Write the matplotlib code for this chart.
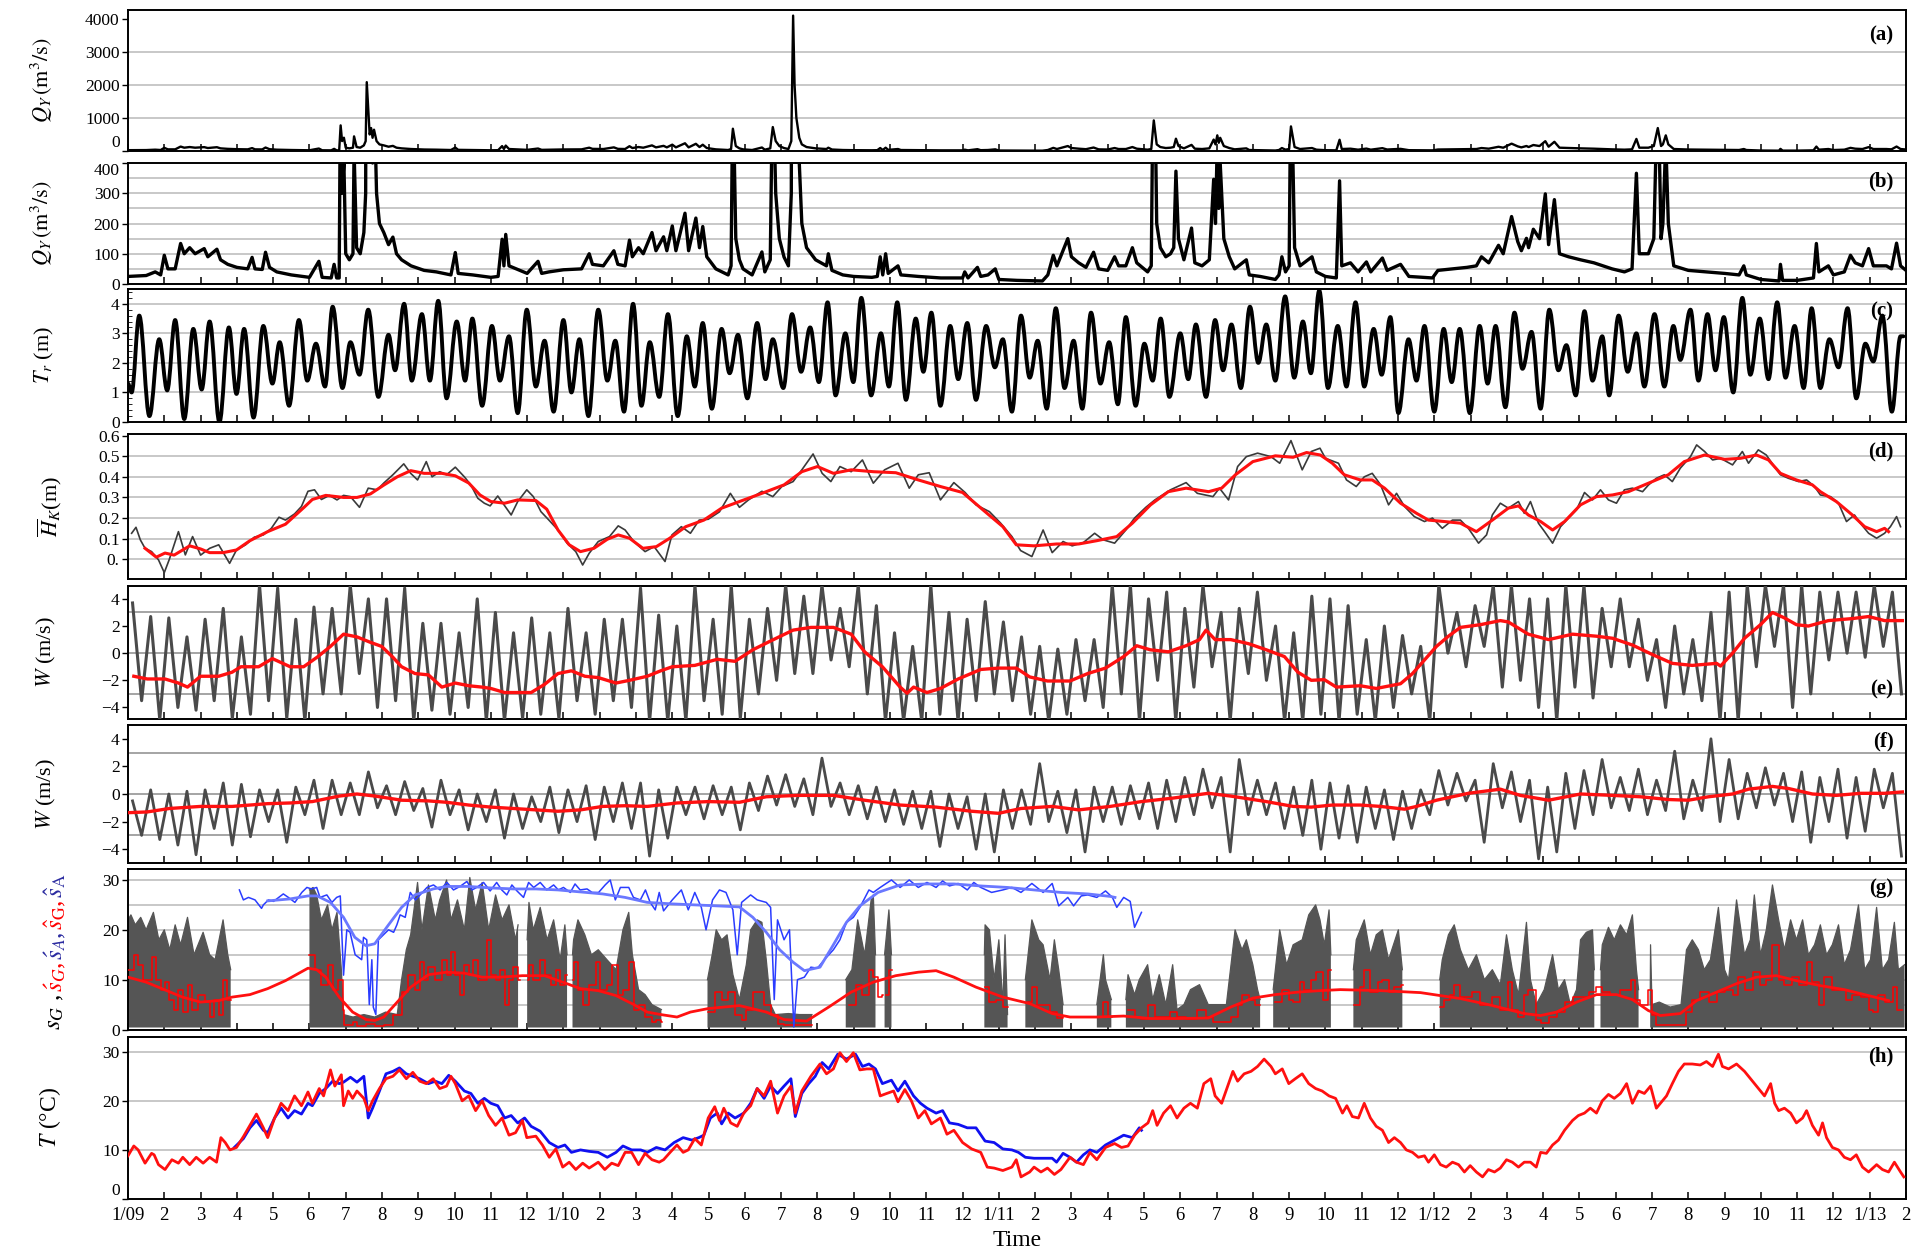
import numpy as np
import matplotlib
matplotlib.use("Agg")
import matplotlib.pyplot as plt
from matplotlib.path import Path
from matplotlib.patches import PathPatch
from matplotlib.ticker import MultipleLocator

NA = float("nan")

# ---------------- x axis (months since Jan 2009) ----------------
month_labels = ["1/09","2","3","4","5","6","7","8","9","10","11","12",
                "1/10","2","3","4","5","6","7","8","9","10","11","12",
                "1/11","2","3","4","5","6","7","8","9","10","11","12",
                "1/12","2","3","4","5","6","7","8","9","10","11","12",
                "1/13","2"]

# ---------------- (a)/(b) river discharge Q_Y (m3/s) ----------------
discharge = [(0,25),(0.5,28),(0.75,40),(0.9,30),(1.0,95),(1.1,50),(1.3,50),(1.45,134),(1.55,100),(1.7,120),
 (1.85,100),(2.1,117),(2.2,90),(2.45,115),(2.55,80),(2.75,65),(3.0,55),(3.3,50),(3.42,88),(3.5,50),(3.7,48),
 (3.79,105),(3.9,55),(4.1,40),(4.5,30),(5.0,22),(5.26,75),(5.35,22),(5.6,20),(5.68,65),(5.75,20),(5.82,20),
 (5.86,776),(5.9,300),(5.95,403),(6.0,100),(6.1,80),(6.2,100),(6.23,443),(6.3,120),(6.4,100),(6.5,170),(6.55,300),
 (6.58,2085),(6.62,1300),(6.66,500),(6.7,695),(6.74,400),(6.78,645),(6.85,300),(6.93,200),(7.05,170),(7.18,130),
 (7.3,155),(7.4,100),(7.54,80),(7.8,60),(8.16,45),(8.5,40),(8.9,30),(9.02,104),(9.1,35),(9.5,30),(10.0,22),(10.2,25),
 (10.31,148),(10.36,60),(10.41,164),(10.5,60),(10.8,45),(11.0,35),(11.3,75),(11.4,35),(11.6,40),(12.0,47),(12.5,50),
 (12.71,100),(12.8,65),(13.1,60),(13.39,110),(13.5,65),(13.7,60),(13.82,145),(13.9,90),(14.07,120),(14.2,100),
 (14.44,170),(14.55,110),(14.76,156),(14.85,110),(15.0,192),(15.1,110),(15.35,234),(15.45,110),(15.65,218),
 (15.75,120),(15.84,190),(15.95,90),(16.2,50),(16.54,30),(16.62,60),(16.67,675),(16.75,150),(16.85,80),(16.95,50),
 (17.2,30),(17.47,106),(17.55,40),(17.7,80),(17.77,725),(17.85,300),(17.95,150),(18.08,89),(18.2,60),(18.28,300),
 (18.33,4100),(18.37,2000),(18.42,1000),(18.5,400),(18.57,200),(18.7,120),(18.95,80),(19.25,60),(19.3,100),
 (19.4,45),(19.7,30),(20.0,25),(20.5,22),(20.65,25),(20.73,90),(20.8,30),(20.88,100),(20.95,35),(21.22,60),
 (21.3,30),(21.78,25),(22.4,20),(23.0,20),(23.06,40),(23.15,20),(23.41,55),(23.5,25),(23.7,30),(23.9,50),(24.0,15),
 (24.5,12),(25.2,10),(25.35,30),(25.5,95),(25.6,60),(25.9,150),(26.0,90),(26.2,70),(26.4,55),(26.61,105),(26.75,50),
 (27.0,45),(27.19,90),(27.3,60),(27.5,60),(27.68,120),(27.8,70),(28.1,40),(28.2,60),(28.27,927),(28.35,200),
 (28.45,120),(28.6,90),(28.73,100),(28.82,120),(28.88,373),(28.95,150),(29.1,80),(29.31,185),(29.4,70),(29.6,60),
 (29.8,80),(29.92,346),(29.97,200),(30.02,474),(30.06,250),(30.1,400),(30.2,150),(30.35,90),(30.5,50),(30.82,80),
 (30.9,30),(31.2,25),(31.62,15),(31.72,30),(31.8,90),(31.9,40),(32.0,60),(32.05,745),(32.15,120),(32.3,60),
 (32.63,90),(32.75,40),(33.0,25),(33.3,20),(33.39,341),(33.45,60),(33.69,70),(33.9,40),(34.13,73),(34.25,40),
 (34.57,86),(34.7,45),(35.07,65),(35.3,25),(35.95,20),(36.1,45),(36.5,50),(36.9,55),(37.16,60),(37.3,90),(37.5,70),
 (37.77,128),(37.9,100),(38.13,223),(38.3,140),(38.4,110),(38.54,151),(38.6,120),(38.73,181),(38.9,150),
 (39.06,298),(39.15,130),(39.31,279),(39.45,100),(39.7,90),(40.03,80),(40.4,70),(40.9,50),(41.24,40),(41.45,50),
 (41.57,366),(41.65,100),(41.9,100),(42.05,150),(42.16,695),(42.25,150),(42.3,200),(42.38,474),(42.45,200),
 (42.6,60),(43.0,45),(43.5,40),(44.0,35),(44.4,30),(44.53,60),(44.6,30),(45.0,15),(45.5,10),(45.54,65),(45.6,12),
 (46.0,12),(46.45,20),(46.53,134),(46.6,40),(46.86,60),(47.0,30),(47.3,40),(47.47,95),(47.6,70),(47.8,60),
 (47.97,117),(48.1,60),(48.46,60),(48.6,50),(48.74,135),(48.85,60),(49.0,45)]

# ---------------- (c) tidal range T_r (m): successive extremes ----------------
tide = [(0.0,1.3),(0.1,1.0),(0.31,3.6),(0.59,0.2),(0.86,2.8),(1.08,1.07),(1.30,3.45),(1.55,0.1),(1.80,3.15),(2.03,1.1),
 (2.25,3.4),(2.52,0.0),(2.78,3.2),(2.99,0.95),(3.20,3.15),(3.46,0.15),(3.73,3.25),(3.98,1.3),(4.18,2.7),(4.44,0.55),
 (4.71,3.45),(4.94,1.4),(5.18,2.65),(5.43,1.2),(5.64,3.9),(5.91,1.15),(6.13,2.7),(6.38,1.6),(6.62,3.8),(6.90,0.85),
 (7.18,2.95),(7.36,1.75),(7.61,4.0),(7.82,1.4),(8.10,3.65),(8.32,1.4),(8.55,4.1),(8.78,0.8),(9.06,3.4),(9.29,1.4),
 (9.49,3.5),(9.76,0.55),(10.03,3.25),(10.25,1.4),(10.50,2.9),(10.74,0.3),(10.99,3.8),(11.24,1.2),(11.48,2.75),
 (11.73,0.35),(12.00,3.45),(12.22,1.0),(12.44,2.8),(12.69,0.2),(12.96,3.8),(13.21,1.4),(13.43,2.75),(13.67,0.35),
 (13.92,4.0),(14.15,0.55),(14.38,2.7),(14.64,0.85),(14.88,3.65),(15.15,0.2),(15.40,2.9),(15.62,1.2),(15.84,3.35),
 (16.09,0.45),(16.36,3.15),(16.58,1.65),(16.81,2.95),(17.07,0.8),(17.34,3.35),(17.57,1.45),(17.77,2.8),(18.06,1.15),
 (18.30,3.65),(18.55,1.7),(18.80,3.2),(19.04,1.35),(19.28,4.05),(19.50,0.9),(19.77,3.0),(19.99,1.35),(20.21,4.2),
 (20.48,0.9),(20.75,3.0),(20.97,1.2),(21.20,4.05),(21.44,0.75),(21.71,3.5),(21.92,1.7),(22.14,3.7),(22.39,0.55),
 (22.66,3.25),(22.88,1.45),(23.13,3.35),(23.37,0.75),(23.65,3.25),(23.89,1.85),(24.11,2.8),(24.36,0.35),(24.61,3.6),
 (24.85,1.5),(25.07,2.75),(25.32,0.45),(25.57,3.85),(25.81,1.15),(26.06,2.75),(26.30,0.45),(26.54,3.7),(26.80,1.3),
 (27.04,2.7),(27.28,0.6),(27.50,3.55),(27.77,0.55),(28.01,2.65),(28.24,1.4),(28.46,3.5),(28.70,0.85),(29.00,3.0),
 (29.22,1.45),(29.43,3.3),(29.71,0.85),(29.96,3.45),(30.18,1.75),(30.41,3.3),(30.67,1.15),(30.92,3.9),(31.15,2.0),
 (31.37,3.3),(31.62,1.4),(31.89,4.25),(32.14,1.5),(32.38,3.4),(32.60,1.65),(32.83,4.45),(33.07,1.15),(33.34,3.25),
 (33.58,1.2),(33.83,4.05),(34.07,1.2),(34.33,3.15),(34.55,1.6),(34.79,3.55),(35.01,0.3),(35.29,2.8),(35.51,1.4),
 (35.73,3.25),(36.00,0.35),(36.26,3.15),(36.48,1.35),(36.70,3.15),(36.98,0.3),(37.25,3.25),(37.47,1.3),(37.69,3.25),
 (37.96,0.5),(38.21,3.7),(38.43,1.8),(38.68,3.05),(38.93,0.45),(39.17,3.8),(39.42,1.75),(39.64,2.6),(39.90,0.9),
 (40.14,3.75),(40.36,1.4),(40.63,2.9),(40.82,0.9),(41.08,3.6),(41.33,1.7),(41.57,3.0),(41.79,1.2),(42.07,3.65),
 (42.34,1.2),(42.59,3.25),(42.78,2.1),(43.06,3.8),(43.28,1.4),(43.53,3.65),(43.75,1.75),(43.98,3.55),(44.24,1.0),
 (44.49,4.2),(44.71,1.6),(44.97,3.5),(45.21,1.45),(45.45,4.05),(45.68,1.5),(45.93,3.25),(46.18,1.15),(46.40,3.85),
 (46.64,1.15),(46.89,2.8),(47.14,1.85),(47.39,3.85),(47.63,0.8),(47.88,2.65),(48.10,2.05),(48.35,3.6),(48.61,0.35),
 (48.85,2.9),(48.93,2.9)]

# ---------------- (d) mean sea level H_K (m) ----------------
hk_raw = [(0.1,0.126),(0.22,0.155),(0.34,0.094),(0.47,0.053),(0.65,0.037),(0.84,-0.003),(1.0,-0.065),(1.14,0.0),
 (1.39,0.134),(1.58,0.021),(1.78,0.11),(2.0,0.02),(2.25,0.053),(2.5,0.07),(2.8,-0.02),(2.99,0.045),(3.24,0.07),
 (3.48,0.107),(3.73,0.118),(3.95,0.15),(4.16,0.204),(4.34,0.19),(4.59,0.22),(4.78,0.256),(4.96,0.33),(5.14,0.337),
 (5.33,0.29),(5.55,0.31),(5.76,0.288),(5.94,0.31),(6.13,0.304),(6.38,0.252),(6.62,0.345),(6.87,0.337),(7.05,0.37),
 (7.3,0.41),(7.6,0.463),(7.79,0.417),(7.98,0.385),(8.22,0.474),(8.38,0.4),(8.59,0.425),(8.78,0.41),(9.02,0.447),
 (9.27,0.4),(9.45,0.36),(9.64,0.296),(9.82,0.272),(9.98,0.259),(10.19,0.307),(10.38,0.26),(10.56,0.215),(10.74,0.28),
 (10.99,0.337),(11.17,0.304),(11.38,0.231),(11.6,0.19),(11.85,0.142),(12.1,0.078),(12.34,0.037),(12.53,-0.028),
 (12.71,0.029),(12.96,0.086),(13.27,0.11),(13.51,0.162),(13.7,0.142),(13.94,0.086),(14.25,0.037),(14.5,0.061),
 (14.8,-0.011),(14.99,0.118),(15.25,0.158),(15.5,0.126),(15.74,0.19),(15.99,0.194),(16.3,0.23),(16.6,0.32),
 (16.85,0.252),(17.1,0.288),(17.47,0.33),(17.77,0.304),(18.02,0.353),(18.33,0.377),(18.57,0.434),(18.88,0.511),
 (19.13,0.417),(19.37,0.377),(19.62,0.45),(19.93,0.425),(20.24,0.482),(20.54,0.369),(20.85,0.434),(21.22,0.466),
 (21.53,0.345),(21.78,0.41),(22.08,0.42),(22.39,0.288),(22.76,0.372),(23.07,0.324),(23.37,0.264),(23.74,0.231),
 (24.05,0.175),(24.36,0.11),(24.6,0.042),(24.91,0.013),(25.22,0.142),(25.47,0.032),(25.77,0.086),(26.02,0.065),
 (26.33,0.081),(26.64,0.126),(26.88,0.094),(27.19,0.078),(27.5,0.142),(27.74,0.2),(28.05,0.252),(28.3,0.288),
 (28.73,0.337),(29.16,0.372),(29.47,0.32),(29.9,0.304),(30.08,0.345),(30.33,0.288),(30.58,0.45),(30.82,0.498),
 (31.13,0.515),(31.5,0.498),(31.74,0.466),(32.05,0.576),(32.36,0.434),(32.61,0.523),(32.85,0.539),(33.0,0.49),
 (33.36,0.466),(33.58,0.385),(33.85,0.353),(34.07,0.4),(34.29,0.417),(34.52,0.361),(34.74,0.264),(34.96,0.32),
 (35.18,0.256),(35.45,0.207),(35.73,0.183),(35.95,0.2),(36.22,0.15),(36.5,0.19),(36.72,0.19),(36.94,0.15),
 (37.22,0.078),(37.44,0.118),(37.6,0.215),(37.82,0.272),(38.04,0.248),(38.32,0.28),(38.48,0.223),(38.65,0.28),
 (38.87,0.175),(39.04,0.134),(39.26,0.078),(39.48,0.158),(39.7,0.2),(39.92,0.24),(40.14,0.324),(40.36,0.288),
 (40.58,0.337),(40.8,0.288),(41.02,0.272),(41.24,0.337),(41.46,0.345),(41.74,0.328),(41.9,0.36),(42.12,0.393),
 (42.34,0.41),(42.56,0.377),(42.78,0.442),(43.06,0.498),(43.23,0.555),(43.45,0.523),(43.67,0.482),(43.89,0.49),
 (44.22,0.458),(44.49,0.523),(44.66,0.466),(44.93,0.531),(45.15,0.506),(45.37,0.45),(45.54,0.41),(45.76,0.393),
 (46.04,0.377),(46.26,0.385),(46.48,0.353),(46.64,0.312),(46.92,0.304),(47.14,0.272),(47.36,0.183),(47.58,0.215),
 (47.74,0.175),(47.97,0.126),(48.19,0.102),(48.41,0.126),(48.57,0.158),(48.74,0.207),(48.85,0.158)]
hk_smooth = [(0.47,0.053),(0.78,0.01),(1.02,0.03),(1.27,0.02),(1.7,0.065),(2.0,0.05),(2.25,0.032),(2.62,0.032),
 (2.99,0.045),(3.36,0.09),(3.85,0.134),(4.34,0.17),(4.84,0.25),(5.08,0.29),(5.45,0.31),(5.94,0.3),(6.31,0.3),
 (6.68,0.317),(7.05,0.36),(7.42,0.4),(7.79,0.43),(8.16,0.417),(8.65,0.417),(9.02,0.405),(9.39,0.37),(9.7,0.312),
 (10.0,0.28),(10.38,0.272),(10.74,0.288),(11.24,0.285),(11.54,0.243),(11.85,0.142),(12.16,0.07),(12.47,0.037),
 (12.84,0.053),(13.21,0.097),(13.51,0.118),(13.82,0.102),(14.19,0.053),(14.56,0.061),(14.93,0.102),(15.37,0.158),
 (15.87,0.19),(16.36,0.248),(16.85,0.28),(17.47,0.32),(18.08,0.361),(18.57,0.425),(19.0,0.45),(19.44,0.417),
 (19.93,0.434),(20.54,0.425),(21.16,0.42),(21.78,0.385),(22.39,0.353),(23.0,0.324),(23.62,0.231),(24.11,0.158),
 (24.48,0.07),(24.97,0.065),(25.59,0.074),(26.2,0.074),(26.7,0.09),(27.25,0.11),(27.68,0.175),(28.18,0.264),
 (28.67,0.328),(29.16,0.345),(29.78,0.328),(30.14,0.345),(30.52,0.41),(31.0,0.474),(31.62,0.502),(32.11,0.495),
 (32.48,0.518),(32.86,0.506),(33.19,0.466),(33.52,0.41),(33.96,0.385),(34.29,0.385),(34.63,0.345),(35.07,0.272),
 (35.51,0.223),(35.84,0.19),(36.28,0.183),(36.72,0.175),(37.16,0.134),(37.6,0.19),(38.04,0.248),(38.32,0.259),
 (38.59,0.215),(38.93,0.183),(39.26,0.142),(39.59,0.183),(40.03,0.264),(40.47,0.304),(40.91,0.312),(41.35,0.328),
 (41.9,0.369),(42.45,0.41),(42.89,0.474),(43.45,0.506),(44.0,0.485),(44.44,0.49),(44.88,0.506),(45.21,0.482),
 (45.54,0.417),(45.98,0.385),(46.42,0.361),(46.64,0.328),(47.08,0.28),(47.52,0.215),(47.86,0.158),(48.19,0.134),
 (48.41,0.15),(48.52,0.134)]

# ---------------- (e) wind W (m/s), station 1: half-month max / min, smooth ----------------
e_hi = [3.7,2.7,2.6,1.2,2.5,3.3,1.2,5.0,4.8,2.5, 3.4,3.3,5.0,4.0,4.0,4.8,2.2,2.2,1.5,4.0,
        3.0,1.5,2.6,1.5,3.3,1.5,2.5,2.5,4.8,2.8, 2.0,5.0,2.5,5.0,2.5,3.3,5.0,4.2,5.0,3.3,
        5.0,3.5,1.5,0.5,5.0,3.0,2.5,3.8,2.3,1.2, 0.5,0.3,1.0,1.0,5.0,5.0,4.0,4.5,3.3,5.0,
        3.0,3.3,4.5,2.0,1.5,4.2,4.0,3.5,1.0,2.0, 1.3,0.5,5.0,3.0,3.5,5.0,5.0,4.0,4.0,5.0,
        5.0,3.3,4.0,2.5,1.0,2.0,1.0,3.0,4.5,5.0, 5.0,5.0,5.0,4.5,4.5,4.5,5.0,4.5]
e_lo = [-3.5,-4.9,-4.0,-4.2,-3.5,-4.8,-4.5,-3.5,-4.8,-5.0, -3.0,-3.0,-1.5,-4.0,-3.5,-5.0,-4.2,-4.5,-4.0,-5.0,
        -5.0,-4.8,-4.5,-4.8,-3.5,-4.5,-3.5,-4.0,-5.0,-5.0, -5.0,-3.5,-4.5,-4.8,-3.0,-2.0,-1.5,-1.5,-0.5,-1.0,
        -3.0,-5.0,-5.0,-5.0,-4.5,-5.0,-3.5,-3.0,-3.5,-4.5, -5.0,-4.5,-3.5,-4.0,-3.0,-5.0,-2.0,-5.0,-2.5,-1.0,
        -5.0,-1.5,-2.0,-5.0,-5.0,-4.5,-5.0,-4.5,-5.0,-4.0, -3.0,-5.0,0.0,-1.0,0.5,-2.5,-2.0,-4.0,-5.0,-2.5,
        -3.3,-1.0,-1.0,-2.0,-4.0,-3.0,-3.5,-5.0,-5.0,-1.0, 0.5,-4.0,-3.0,-0.5,0.0,-0.3,0.5,-3.0]
e_smooth = [(0.16,-1.7),(0.53,-1.9),(1.02,-1.9),(1.39,-2.2),(1.64,-2.5),(2.0,-1.7),(2.5,-1.7),(2.87,-1.4),(3.11,-1.0),
 (3.6,-1.0),(3.98,-0.4),(4.47,-1.0),(4.84,-1.0),(5.21,-0.3),(5.58,0.5),(5.94,1.4),(6.31,1.2),(6.68,0.8),(6.99,0.5),
 (7.3,-0.3),(7.54,-1.0),(7.91,-1.5),(8.28,-1.6),(8.65,-2.5),(9.02,-2.2),(9.39,-2.4),(9.76,-2.5),(10.0,-2.6),
 (10.38,-2.9),(10.74,-2.9),(11.11,-2.9),(11.48,-2.3),(11.85,-1.5),(12.22,-1.3),(12.59,-1.7),(12.96,-1.8),
 (13.45,-2.2),(13.82,-2.0),(14.31,-1.7),(14.68,-1.3),(15.0,-1.0),(15.62,-0.9),(16.24,-0.45),(16.73,-0.6),
 (17.22,0.25),(17.71,0.9),(18.33,1.7),(18.82,1.9),(19.44,1.9),(19.93,1.4),(20.3,0.1),(20.79,-1.0),(21.28,-2.5),
 (21.47,-2.95),(21.65,-2.5),(22.02,-2.9),(22.39,-2.6),(22.88,-1.9),(23.5,-1.2),(23.99,-1.1),(24.48,-1.1),
 (24.85,-1.75),(25.34,-2.05),(25.96,-2.05),(26.45,-1.5),(26.94,-1.1),(27.44,-0.25),(27.8,0.55),(28.17,0.25),
 (28.67,0.1),(29.16,0.55),(29.53,1.0),(29.71,1.7),(29.96,1.0),(30.39,1.0),(30.88,0.7),(31.37,0.25),(31.87,-0.25),
 (32.24,-1.4),(32.61,-2.0),(32.97,-1.95),(33.3,-2.5),(33.96,-2.4),(34.4,-2.6),(35.07,-2.25),(35.4,-1.5),
 (35.73,-0.5),(36.06,0.5),(36.39,1.25),(36.72,1.9),(37.27,2.1),(37.82,2.4),(38.04,2.3),(38.59,1.4),(39.15,1.0),
 (39.81,1.4),(40.47,1.25),(40.91,1.1),(41.46,0.6),(42.01,-0.1),(42.56,-0.75),(43.11,-0.9),(43.78,-0.75),
 (43.89,-0.95),(44.22,0.0),(44.55,1.1),(44.99,2.1),(45.32,3.0),(45.65,2.6),(45.98,2.1),(46.31,2.0),(46.86,2.4),
 (47.52,2.55),(47.97,2.7),(48.41,2.4),(48.9,2.4)]

# ---------------- (f) wind W (m/s), station 2 ----------------
f_hi = [-0.5,0.3,0.0,0.2,0.3,0.8,0.7,0.3,0.3,0.5, 1.0,1.0,0.8,1.6,0.6,0.9,0.4,1.0,0.3,0.0,
        0.3,0.0,-0.2,0.5,0.3,0.6,0.5,0.8,0.8,0.3, 0.5,0.5,0.6,0.5,0.8,1.3,1.4,1.1,2.6,0.8,
        0.6,0.5,0.3,0.2,0.2,0.0,-0.2,0.0,0.3,0.3, 2.2,0.2,0.3,0.5,0.5,0.6,0.8,1.0,1.2,1.8,
        1.2,2.5,1.0,0.8,0.5,1.0,0.8,0.6,0.5,0.3, 0.2,0.3,1.7,1.5,1.0,2.2,1.6,1.0,0.5,1.5,
        1.7,2.5,1.2,1.8,1.0,3.1,1.0,4.0,2.5,1.5, 1.9,1.5,1.6,1.2,1.8,1.2,1.8,1.5]
f_lo = [-3.0,-3.3,-3.7,-4.4,-2.5,-3.7,-3.1,-2.0,-3.5,-1.5, -2.5,-1.5,-1.5,-1.0,-1.5,-1.2,-2.4,-1.5,-2.6,-2.0,
        -3.2,-2.5,-2.0,-2.8,-2.0,-3.3,-2.0,-2.5,-4.5,-3.2, -1.5,-1.8,-1.5,-2.6,-1.2,-0.8,-0.9,-1.5,-0.9,-1.5,
        -1.8,-2.0,-2.2,-2.5,-3.8,-2.5,-4.0,-4.2,-2.5,-2.2, -2.0,-2.8,-4.2,-2.0,-2.2,-1.8,-2.5,-2.0,-1.5,-1.0,
        -4.2,-1.5,-1.5,-2.5,-3.0,-4.0,-3.2,-3.5,-2.5,-3.3, -2.5,-1.5,-0.8,-0.5,-3.5,-1.0,-2.0,-4.7,-4.2,-2.5,
        -1.5,-1.0,-1.2,-1.5,-1.2,-1.8,-1.2,-2.0,-1.8,-1.0, -0.8,-2.0,-3.5,-2.0,-3.2,-2.7,-1.0,-4.5]
f_smooth = [(0.04,-1.35),(0.53,-1.3),(1.14,-1.05),(2.0,-0.9),(2.87,-0.9),(3.85,-0.7),(4.47,-0.65),(5.08,-0.55),
 (5.82,-0.15),(6.31,0.0),(6.81,-0.15),(7.54,-0.45),(8.28,-0.5),(8.78,-0.6),(9.39,-0.8),(10.0,-0.95),(10.62,-1.05),
 (11.24,-1.15),(11.85,-1.25),(12.47,-1.15),(13.08,-0.9),(13.7,-0.85),(14.31,-0.9),(15.13,-0.65),(15.99,-0.55),
 (16.85,-0.6),(17.59,-0.2),(18.45,-0.1),(19.44,-0.1),(20.3,-0.45),(21.28,-0.8),(22.27,-0.95),(23.25,-1.25),
 (23.99,-1.4),(24.61,-1.05),(25.47,-0.9),(26.2,-1.15),(27.07,-0.9),(27.93,-0.55),(28.79,-0.3),(29.77,0.05),
 (30.39,-0.15),(31.37,-0.55),(32.11,-0.9),(32.61,-0.95),(33.19,-0.8),(33.96,-0.8),(34.52,-0.9),(35.18,-1.1),
 (35.51,-0.9),(36.06,-0.45),(36.94,0.05),(37.82,0.35),(38.37,-0.1),(39.15,-0.45),(40.03,0.0),(40.91,-0.1),
 (41.68,-0.2),(42.45,-0.4),(43.0,-0.45),(43.56,-0.2),(44.22,0.0),(44.66,0.35),(45.32,0.55),(45.76,0.4),
 (46.42,0.0),(47.08,-0.1),(47.75,0.05),(48.41,0.05),(48.9,0.15)]

# ---------------- (g) salinity ----------------
sG_min = 0.4
sG_top = [(0.0,22),(0.08,23),(0.2,21),(0.35,22.5),(0.5,20),(0.7,23.5),(0.85,18),(1.0,20),(1.15,16),(1.3,21),(1.45,17),
 (1.64,22.5),(1.82,15),(2.07,19.5),(2.25,15),(2.4,14),(2.62,22),(2.75,15),(2.83,12),(2.84,NA),
 (5.0,28),(5.1,28.5),(5.2,27),(5.33,22),(5.5,25),(5.62,20),(5.76,23.5),(5.88,12),(5.94,3),(6.2,2.5),(6.5,3.0),
 (6.8,2.5),(7.1,3.5),(7.42,3),(7.54,10),(7.67,16),(7.79,19),(7.98,29.5),(8.1,20),(8.28,29),(8.47,22),(8.59,26),
 (8.78,30),(8.9,22),(9.08,26),(9.27,20),(9.42,30.5),(9.58,24),(9.76,29.5),(9.94,20),(10.13,27),(10.31,22),(10.5,25),
 (10.68,18),(10.75,21),(10.76,NA),
 (11.0,18),(11.05,25.5),(11.17,20),(11.36,24.5),(11.55,18),(11.73,22),(11.91,14),(12.04,21),(12.1,15),(12.11,NA),
 (12.25,15),(12.28,18),(12.4,22),(12.59,19),(12.77,15),(12.96,16),(13.2,14),(13.45,12),(13.64,20),(13.8,23.5),
 (13.9,15),(14.07,8),(14.25,7),(14.44,5),(14.7,4),(14.71,NA),
 (15.97,10),(16.1,15),(16.21,20),(16.36,18),(16.51,19),(16.67,11),(16.85,6),(17.04,13),(17.16,20),(17.34,22),
 (17.47,21.5),(17.59,14),(17.71,5),(17.84,3),(18.2,3.2),(18.5,3.0),(18.85,3),(18.86,NA),
 (19.78,10),(19.95,12),(20.11,22),(20.3,15),(20.48,26),(20.54,27),(20.6,15),(20.61,NA),(20.85,15),(20.97,24),
 (21.04,15),(21.05,NA),
 (23.6,15),(23.62,21),(23.74,20),(23.87,10),(24.0,18),(24.11,5),(24.17,19),(24.24,3),(24.25,NA),
 (24.73,10),(24.91,22),(25.1,18),(25.22,17),(25.41,10),(25.53,18),(25.65,12),(25.77,5),(25.78,NA),
 (26.7,5),(26.88,15),(26.94,10),(27.1,6),(27.11,NA),
 (27.5,6),(27.56,11),(27.74,7),(27.87,10),(28.1,13),(28.24,6),(28.42,11),(28.6,5),(28.79,13),(28.91,4),(29.1,5),
 (29.28,8),(29.53,9),(29.77,5),(30.02,5),(30.27,5),(30.51,20),(30.7,16),(30.82,18),(31.0,13),(31.13,8),(31.2,6),
 (31.21,NA),
 (31.56,8),(31.74,20),(31.93,13),(32.11,17),(32.36,18),(32.54,23),(32.73,25),(32.85,22),(32.97,17),(33.1,24),
 (33.15,15),(33.16,NA),
 (33.77,12),(33.85,18),(34.07,22),(34.24,15),(34.4,19),(34.57,20),(34.74,14),(35.01,20),(35.12,12),(35.13,NA),
 (36.15,10),(36.22,14),(36.39,19),(36.55,21),(36.72,16),(36.94,12),(37.16,15),(37.38,10),(37.6,12),(37.82,9),
 (37.99,19),(38.15,12),(38.32,7),(38.54,21.5),(38.65,10),(38.81,5),(39.03,8),(39.26,15),(39.42,8),(39.59,10),
 (39.75,5),(39.92,8),(40.03,18),(40.19,19.5),(40.36,20),(40.41,12),(40.42,NA),
 (40.58,12),(40.63,17),(40.8,20.5),(40.96,18),(41.13,21),(41.3,19),(41.46,23),(41.57,12),(41.63,8),(41.64,NA),
 (41.95,5),(41.96,17),(42.0,5),(42.2,5.5),(42.5,4.5),(42.8,5),(42.95,16),(43.11,18),(43.28,16),(43.44,12),
 (43.61,14),(43.83,24.5),(44.0,12),(44.11,10),(44.33,26),(44.55,15),(44.71,18),(44.82,27),(44.99,15),(45.15,20),
 (45.32,29),(45.49,22),(45.65,16),(45.82,22),(45.98,18),(46.15,22),(46.31,15),(46.48,17),(46.64,21),(46.81,15),
 (46.97,17),(47.14,21),(47.3,13),(47.47,16),(47.69,25),(47.86,12),(48.02,14),(48.19,24.5),(48.35,12),(48.52,14),
 (48.68,21.5),(48.79,12),(48.96,13)]
sG_daily = [(0,12),(0.16,15),(0.28,13),(0.4,10),(0.65,14.5),(0.78,10),(0.9,8),(1.02,9.5),(1.14,6),(1.27,4),(1.39,8),
 (1.51,3.5),(1.64,9),(1.76,4),(1.94,7),(2.13,5.5),(2.25,2.5),(2.38,6),(2.5,3),(2.62,10),(2.74,6),(2.83,6),(2.84,NA),
 (5.0,15),(5.14,12),(5.33,9),(5.51,13),(5.64,8),(5.8,10),(5.92,4),(5.94,1.0),(6.19,1.5),(6.31,0.8),(6.56,1.2),
 (6.8,0.8),(7.05,1.0),(7.3,3),(7.54,7.5),(7.73,11),(7.91,8),(8.04,13.5),(8.16,10),(8.28,12.5),(8.47,10),(8.65,14),
 (8.78,11),(8.9,15.5),(9.02,11),(9.14,7),(9.27,13),(9.39,11),(9.51,14),(9.64,10),(9.76,10),(9.88,18),(10.0,11),
 (10.13,10),(10.25,12),(10.38,5),(10.5,10),(10.62,12.5),(10.74,10),(10.8,10),(10.81,NA),
 (11.02,10),(11.05,13),(11.17,10),(11.36,14),(11.48,11),(11.67,9),(11.79,12),(11.91,9),(12.04,11),(12.1,11),(12.11,NA),
 (12.25,10),(12.28,13.5),(12.4,8),(12.53,5),(12.71,9),(12.9,13.5),(13.02,8),(13.2,9),(13.33,13),(13.51,7),(13.64,8),
 (13.82,13.5),(13.94,4),(14.07,5),(14.25,2.5),(14.44,1.5),(14.56,2.0),(14.7,1.5),(14.71,NA),
 (15.99,3.5),(16.17,7.5),(16.36,6),(16.54,7.5),(16.73,3),(16.91,2),(17.04,4),(17.22,7.5),(17.41,7.5),(17.53,5),
 (17.71,3),(17.9,1.2),(18.08,1.0),(18.45,1.0),(18.85,1.0),(18.86,NA),
 (19.87,5),(20.05,9),(20.23,7),(20.42,12),(20.54,10.5),(20.67,6.5),(20.79,7),(20.8,NA),(20.9,7),(20.97,12),(21.04,12),
 (21.05,NA),
 (23.62,8.5),(23.74,5.5),(23.93,6),(24.11,4.5),(24.24,4.5),(24.25,NA),
 (24.79,5.5),(24.91,8.5),(25.04,5),(25.22,5),(25.41,3.5),(25.59,2.3),(25.77,2.5),(25.78,NA),
 (26.76,2.5),(26.88,5.5),(27.0,2.5),(27.1,2.5),(27.11,NA),
 (27.56,4),(27.74,2.5),(27.93,2.2),(28.1,5),(28.3,2.5),(28.42,2.5),(28.73,3.5),(28.91,2.5),(29.16,2.2),(29.47,4),
 (29.71,2.5),(29.9,1.5),(30.2,1.5),(30.39,2.5),(30.58,5),(30.7,7),(30.88,6),(31.07,5),(31.2,5),(31.21,NA),
 (31.62,5.5),(31.8,8),(31.99,6),(32.11,5.5),(32.3,9.5),(32.42,8),(32.59,10),(32.75,11.5),(32.92,6),(33.08,12),
 (33.15,12),(33.16,NA),
 (33.8,5),(33.96,8.5),(34.07,12),(34.24,7.5),(34.46,9.5),(34.57,10),(34.74,7.5),(34.9,8.5),(35.07,9),(35.12,9),
 (35.13,NA),
 (36.17,4.5),(36.28,6),(36.44,7),(36.55,9),(36.72,6.5),(36.94,6.5),(37.05,7.5),(37.27,5),(37.44,5),(37.6,6.5),
 (37.82,4),(38.04,9.5),(38.15,4),(38.32,2.5),(38.48,7),(38.59,8),(38.81,2),(38.93,1.3),(39.15,2.5),(39.37,3.5),
 (39.59,5.5),(39.81,6.5),(40.03,6.5),(40.25,7.5),(40.47,8.5),(40.63,7.5),(40.85,7),(41.13,8),(41.41,10),(41.52,6),
 (41.68,5),(41.9,8),(42.01,3),(42.12,1.0),(42.45,1.0),(42.78,1.0),(42.95,3.5),(43.11,6),(43.33,7.5),(43.56,5.5),
 (43.78,7.5),(44.0,8),(44.22,7),(44.38,10.5),(44.55,8),(44.77,11.5),(44.99,9),(45.15,10),(45.32,17),(45.49,10),
 (45.65,9),(45.87,10.5),(46.04,9),(46.26,13.5),(46.42,9.5),(46.59,5),(46.75,10.5),(46.97,8),(47.14,8),(47.36,6),
 (47.52,7),(47.75,6.5),(47.97,4),(48.08,3.5),(48.24,7),(48.41,5.5),(48.63,8.5),(48.74,4),(48.9,4)]
sG_smooth = [(0.0,10.5),(0.5,9.5),(1.0,8.0),(1.5,6.5),(2.0,5.5),(2.5,5.8),(2.87,6.5),(3.36,7.0),(3.85,8.2),(4.34,9.8),
 (4.96,12.3),(5.2,12.0),(5.45,10.5),(5.82,6.5),(6.19,3.5),(6.56,2.0),(6.8,1.8),(7.05,2.5),(7.42,5.5),(7.79,8.5),
 (8.28,11.0),(8.78,11.5),(9.27,11.3),(9.76,10.5),(10.25,10.5),(10.87,10.8),(11.48,10.8),(11.98,9.5),(12.47,8.2),
 (12.96,7.8),(13.45,6.8),(13.94,5.0),(14.31,3.5),(14.68,3.0),(15.13,2.5),(15.5,3.5),(15.99,4.2),(16.85,4.8),
 (17.59,3.5),(18.08,2.0),(18.7,1.7),(19.31,4.5),(19.93,7.5),(20.54,9.5),(21.16,10.8),(21.78,11.5),(22.27,11.8),
 (22.76,10.5),(23.37,8.5),(24.11,6.5),(24.85,5.2),(25.47,3.2),(25.96,2.5),(26.7,2.5),(27.44,2.7),(28.17,2.2),
 (28.91,2.2),(29.77,2.3),(30.39,4.5),(31.0,6.3),(31.62,7.0),(32.24,7.5),(32.85,7.8),(33.41,8.0),(34.52,7.8),
 (35.62,7.4),(36.72,6.2),(37.49,5.0),(38.04,4.0),(38.48,3.2),(38.93,2.8),(39.37,3.5),(39.92,5.5),(40.47,7.0),
 (41.02,7.0),(41.46,6.0),(41.9,3.8),(42.23,2.8),(42.78,3.2),(43.23,5.8),(43.78,7.5),(44.33,9.2),(44.88,10.5),
 (45.43,10.8),(45.98,9.8),(46.64,8.8),(47.3,8.0),(47.97,6.8),(48.52,5.8)]
sA_daily = [(3.07,28),(3.18,26),(3.32,26.5),(3.5,26),(3.68,24.3),(3.73,25),(3.87,26),(4.01,25.7),(4.28,27.2),(4.42,26.5),
 (4.6,25.5),(4.79,27.5),(4.93,28.5),(5.06,28.2),(5.2,28.5),(5.29,26.5),(5.48,27),(5.62,25.5),(5.75,26.5),(5.85,26.8),
 (5.94,10.9),(6.03,20),(6.12,19.5),(6.26,15),(6.35,14.5),(6.44,14.0),(6.49,18.5),(6.58,18),(6.65,5),(6.72,14),
 (6.76,4.5),(6.83,3.0),(6.9,18),(7.04,19),(7.18,20),(7.32,19.5),(7.41,21),(7.5,23),(7.64,22.5),(7.78,27.5),(7.92,26),
 (8.05,27),(8.24,28.5),(8.42,29),(8.6,28),(8.79,29.5),(8.97,28),(9.15,28.7),(9.34,29.7),(9.48,28),(9.61,28.5),
 (9.8,29.5),(9.98,27.8),(10.16,29.5),(10.3,28),(10.44,27),(10.58,29),(10.72,27.8),(10.9,26.5),(11.04,29.5),
 (11.18,28.5),(11.36,29.5),(11.54,28),(11.73,29),(11.86,28),(12.0,28.5),(12.19,27.5),(12.32,29.2),(12.46,28),
 (12.65,28.2),(12.79,27.5),(12.97,27.5),(13.15,29),(13.29,30),(13.43,26),(13.57,28.5),(13.8,28.5),(13.93,26.5),
 (14.12,26),(14.26,28),(14.39,25.5),(14.53,24),(14.64,27.5),(14.76,23.8),(15.0,26),(15.25,28),(15.44,24),
 (15.62,27.5),(15.8,24.5),(15.93,20),(16.11,26),(16.3,28),(16.48,27.5),(16.67,24),(16.79,15),(16.91,25.5),
 (17.16,27),(17.34,26),(17.59,25.5),(17.71,24.5),(17.81,6),(17.9,22),(18.08,18),(18.23,20),(18.35,0.5),(18.45,10),
 (18.64,10.5),(18.82,12.5),(19.0,12.3),(19.19,14),(19.44,16),(19.62,18),(19.8,21.5),(19.99,22.5),(20.17,24.5),
 (20.42,28),(20.54,27.5),(20.73,28.5),(21.04,30),(21.28,28.5),(21.53,30),(21.78,28.5),(22.02,29.5),(22.27,28.5),
 (22.45,29.8),(22.64,28.8),(22.88,29.3),(23.13,28),(23.31,29.5),(23.5,28.5),(23.8,27.5),(24.11,28),(24.36,28.5),
 (24.61,27.5),(24.91,29.3),(25.22,27.5),(25.47,29.3),(25.65,24.8),(25.9,26.5),(26.06,24.8),(26.27,26.8),(26.45,27),
 (26.7,26.5),(26.94,27.8),(27.13,26.5),(27.25,24.5),(27.44,26.5),(27.62,25.7),(27.74,20.5),(27.93,23.5)]
sA_smooth = [(3.85,25.8),(4.47,26.2),(4.96,26.8),(5.21,26.8),(5.58,25.5),(5.94,22.5),(6.25,18.5),(6.56,16.8),(6.8,17.2),
 (7.18,21.0),(7.54,24.5),(7.91,27.0),(8.41,28.2),(8.78,28.7),(9.39,28.7),(10.0,28.4),(10.62,28.2),(11.24,28.2),
 (11.85,28.0),(12.47,27.6),(13.08,27.2),(13.7,26.5),(14.31,25.5),(15.0,25.2),(15.62,25.0),(16.24,24.8),(16.85,24.6),
 (17.22,22.5),(17.59,19.5),(17.96,16.0),(18.33,13.5),(18.64,11.8),(19.07,12.5),(19.44,17.0),(19.8,21.5),
 (20.17,24.8),(20.67,27.5),(21.28,29.0),(22.02,29.2),(22.76,29.2),(23.5,28.8),(24.24,28.5),(24.97,28.0),
 (25.71,27.5),(26.45,27.2),(27.07,26.7),(27.2,26.5)]

# ---------------- (h) water temperature T (deg C) ----------------
temp_red = [(0.0,8.8),(0.16,10.8),(0.28,10.0),(0.47,7.3),(0.65,9.3),(0.72,9.0),(0.84,7.0),(1.02,6.0),(1.21,8.0),(1.39,7.3),
 (1.51,8.5),(1.7,7.0),(1.88,8.5),(2.07,7.3),(2.25,8.5),(2.44,7.5),(2.56,12.5),(2.68,11.5),(2.81,10.0),(2.99,10.5),
 (3.18,12.7),(3.36,15.0),(3.54,17.3),(3.73,14.5),(3.85,12.5),(4.04,16.5),(4.22,19.5),(4.41,18.0),(4.59,21.0),
 (4.78,19.0),(4.96,21.8),(5.08,19.5),(5.27,22.5),(5.39,21.0),(5.58,26.3),(5.7,23.0),(5.88,25.3),(5.94,19.0),
 (6.07,22.0),(6.19,20.5),(6.31,22.0),(6.5,20.5),(6.62,18.0),(6.74,20.0),(6.93,22.5),(7.11,24.5),(7.3,25.0),
 (7.48,26.3),(7.67,24.5),(7.85,25.8),(8.04,24.0),(8.22,23.5),(8.41,24.5),(8.59,22.5),(8.78,23.0),(8.9,25.0),
 (9.02,23.5),(9.21,20.0),(9.39,21.0),(9.58,18.0),(9.76,20.0),(9.94,17.0),(10.13,15.0),(10.31,16.5),(10.5,13.0),
 (10.68,13.5),(10.87,16.0),(10.99,12.5),(11.24,12.8),(11.42,11.0),(11.61,8.5),(11.79,10.2),(11.98,6.5),(12.16,7.5),
 (12.34,6.0),(12.53,7.3),(12.71,6.3),(12.96,7.5),(13.14,6.0),(13.33,7.3),(13.51,6.8),(13.7,9.5),(13.88,9.5),
 (14.07,7.0),(14.25,9.3),(14.44,8.0),(14.64,7.5),(14.76,8.0),(14.94,9.5),(15.13,11.0),(15.3,9.5),(15.44,10.0),
 (15.62,12.3),(15.8,11.0),(15.99,16.5),(16.17,18.8),(16.3,16.0),(16.42,18.5),(16.61,15.5),(16.79,14.8),(16.97,17.5),
 (17.16,19.0),(17.34,22.5),(17.53,21.0),(17.71,24.0),(17.9,17.5),(18.08,21.0),(18.27,23.0),(18.39,17.5),(18.57,22.0),
 (18.82,25.0),(19.07,27.5),(19.25,25.5),(19.44,26.5),(19.62,29.8),(19.8,28.0),(19.99,29.8),(20.17,26.3),(20.36,26.5),
 (20.54,26.5),(20.73,21.0),(20.91,21.5),(21.1,22.0),(21.22,19.8),(21.41,22.3),(21.59,20.0),(21.78,16.5),(21.96,18.0),
 (22.14,15.3),(22.39,16.5),(22.57,13.2),(22.76,14.0),(23.0,11.5),(23.25,10.2),(23.5,9.5),(23.68,6.5),(23.87,6.3),
 (24.11,5.8),(24.36,6.5),(24.48,8.0),(24.61,4.5),(24.85,5.5),(24.97,6.5),(25.16,5.5),(25.34,6.3),(25.53,5.0),
 (25.71,6.0),(25.96,8.5),(26.14,7.5),(26.33,7.0),(26.51,9.5),(26.7,8.0),(26.94,10.5),(27.19,11.3),(27.38,10.5),
 (27.56,10.8),(27.74,13.0),(27.93,14.5),(28.11,15.5),(28.24,18.0),(28.36,15.0),(28.54,17.5),(28.73,19.0),(28.91,16.5),
 (29.1,18.5),(29.28,19.5),(29.47,18.5),(29.65,23.5),(29.84,24.5),(29.96,21.0),(30.14,19.5),(30.33,23.5),(30.45,26.0),
 (30.58,24.0),(30.76,25.5),(30.95,26.0),(31.13,27.0),(31.31,28.5),(31.5,27.0),(31.62,25.5),(31.81,26.5),(31.99,23.5),
 (32.17,24.5),(32.36,25.5),(32.54,23.5),(32.73,22.5),(32.91,22.0),(33.1,21.0),(33.28,20.5),(33.47,17.5),(33.59,19.0),
 (33.74,16.8),(33.91,16.5),(34.07,19.5),(34.24,16.5),(34.4,14.8),(34.57,14.0),(34.74,11.5),(34.9,12.5),(35.07,11.5),
 (35.23,10.0),(35.4,9.5),(35.56,8.5),(35.73,8.8),(35.84,7.5),(36.0,9.0),(36.17,7.0),(36.33,6.5),(36.5,7.5),
 (36.67,7.0),(36.83,5.5),(36.99,6.8),(37.16,5.5),(37.33,4.5),(37.49,6.0),(37.66,5.5),(37.82,6.3),(37.99,8.0),
 (38.15,7.5),(38.32,6.5),(38.48,7.5),(38.65,7.5),(38.81,6.5),(38.93,9.5),(39.09,9.3),(39.26,11.0),(39.42,12.0),
 (39.59,14.0),(39.81,16.0),(39.97,17.0),(40.14,17.5),(40.3,18.5),(40.47,17.5),(40.63,20.0),(40.8,21.3),(40.96,20.5),
 (41.13,21.5),(41.3,23.5),(41.46,19.5),(41.63,22.0),(41.79,21.5),(41.96,23.0),(42.12,18.5),(42.29,20.0),(42.4,21.0),
 (42.56,23.5),(42.73,26.0),(42.89,27.5),(43.11,27.5),(43.33,27.3),(43.5,28.0),(43.67,27.0),(43.83,29.5),(43.94,27.0),
 (44.11,26.5),(44.33,27.5),(44.55,26.0),(44.77,24.0),(44.99,22.0),(45.1,21.0),(45.27,23.5),(45.38,19.5),(45.49,18.0),
 (45.65,18.5),(45.82,17.5),(45.98,15.5),(46.15,16.5),(46.26,18.0),(46.42,15.0),(46.59,13.0),(46.7,15.5),(46.81,12.5),
 (46.97,10.5),(47.14,10.0),(47.3,8.5),(47.47,8.0),(47.63,9.0),(47.8,6.5),(47.97,5.5),(48.19,7.0),(48.35,6.0),
 (48.52,5.5),(48.68,7.5),(48.85,5.5),(48.94,4.5)]
temp_blue = [(2.93,10.5),(3.18,12.3),(3.36,14.5),(3.54,16.0),(3.73,14.0),(3.85,13.5),(4.04,16.5),(4.22,18.5),(4.41,16.5),
 (4.59,18.0),(4.78,17.3),(4.96,19.5),(5.08,19.0),(5.27,21.5),(5.45,22.5),(5.64,24.0),(5.82,23.5),(5.94,23.8),
 (6.13,24.8),(6.31,23.8),(6.5,25.0),(6.62,16.5),(6.74,18.5),(6.93,22.0),(7.11,25.5),(7.3,26.0),(7.48,26.7),
 (7.67,25.5),(7.85,25.0),(8.04,24.5),(8.28,23.5),(8.47,24.0),(8.65,23.5),(8.84,25.2),(9.02,24.0),(9.27,22.0),
 (9.45,21.5),(9.64,19.5),(9.82,20.5),(10.0,19.5),(10.19,19.0),(10.38,16.5),(10.56,17.0),(10.74,15.5),(10.93,16.5),
 (11.11,14.8),(11.36,13.8),(11.61,11.5),(11.85,10.5),(12.04,11.0),(12.22,9.5),(12.47,10.0),(12.71,9.7),(12.96,9.5),
 (13.21,8.5),(13.45,9.5),(13.64,10.8),(13.88,10.0),(14.13,10.0),(14.31,9.5),(14.56,10.5),(14.8,10.0),(15.05,11.5),
 (15.3,12.5),(15.54,12.0),(15.73,12.5),(15.87,13.0),(16.05,16.5),(16.24,17.5),(16.36,15.3),(16.54,17.5),(16.73,16.5),
 (16.97,17.5),(17.16,19.5),(17.34,22.5),(17.53,20.5),(17.71,23.0),(17.9,21.5),(18.08,23.0),(18.27,24.5),(18.39,16.8),
 (18.57,21.5),(18.76,23.5),(18.94,25.0),(19.13,27.8),(19.31,26.5),(19.56,29.5),(19.8,28.5),(20.05,29.5),(20.24,27.0),
 (20.42,27.5),(20.6,26.5),(20.79,23.5),(21.04,24.2),(21.22,22.0),(21.41,24.0),(21.65,21.0),(21.84,19.5),(22.02,18.5),
 (22.27,17.5),(22.45,18.0),(22.64,15.5),(22.88,15.2),(23.13,14.5),(23.37,14.5),(23.62,11.8),(23.87,11.5),(24.11,10.2),
 (24.36,10.0),(24.54,9.5),(24.73,8.5),(24.97,8.3),(25.22,8.3),(25.47,8.3),(25.59,7.5),(25.77,9.3),(25.96,8.5),
 (26.14,7.5),(26.33,9.0),(26.51,10.0),(26.7,9.5),(26.94,11.0),(27.19,12.0),(27.44,13.0),(27.68,12.5),(27.87,14.5),
 (27.93,14.0)]

# ======================= drawing =======================
plt.rcParams['font.family'] = ['Liberation Serif', 'DejaVu Serif']
plt.rcParams['mathtext.fontset'] = 'stix'
plt.rcParams['axes.unicode_minus'] = True

W, H = 1927, 1251
fig = plt.figure(figsize=(W / 100, H / 100), dpi=100)
LEFT, RIGHT = 128, 1906
GRID_LIGHT = '#c4c4c4'
GRID_DARK = '#8c8c8c'


def make_axes(top, bottom):
    ax = fig.add_axes([LEFT / W, 1 - bottom / H, (RIGHT - LEFT) / W, (bottom - top) / H])
    ax.set_xlim(0, len(month_labels) - 1)
    ax.set_xticks(range(len(month_labels)))
    ax.tick_params(axis='x', direction='in', length=5, width=1.1, labelbottom=False, top=False)
    ax.tick_params(axis='y', direction='out', length=4, width=1.0, labelsize=12.5, pad=2)
    for s in ax.spines.values():
        s.set_linewidth(1.4)
    return ax


def xy(pts):
    a = np.array(pts, dtype=float)
    return a[:, 0], a[:, 1]


def grid(ax, levels, color=GRID_LIGHT, lw=1.3):
    for g in levels:
        ax.axhline(g, color=color, lw=lw, zorder=0)


def panel_label(ax, s, y=0.82):
    ax.text(0.993, y, s, transform=ax.transAxes, ha='right', va='center',
            fontsize=15, fontweight='bold', zorder=10)


def ylab(yc, text, x=48, size=16, color='black'):
    fig.text(x / W, 1 - yc / H, text, rotation=90, ha='center', va='center',
             fontsize=size, color=color)


# (a)
axa = make_axes(10, 151)
tq, vq = xy(discharge)
grid(axa, [1000, 2000, 3000])
axa.plot(tq, vq, color='black', lw=1.7, zorder=3)
axa.set_ylim(0, 4270)
axa.set_yticks([0, 1000, 2000, 3000, 4000])
axa.get_yticklabels()[0].set_verticalalignment('bottom')
panel_label(axa, '(a)')
ylab(80, r'$Q_Y\,(\mathrm{m}^{3}/\mathrm{s})$', x=42)

# (b)
axb = make_axes(163, 284)
grid(axb, [50, 100, 150, 200, 250, 300, 350])
axb.plot(tq, vq, color='black', lw=2.4, zorder=3)
axb.set_ylim(0, 400)
axb.set_yticks([0, 100, 200, 300, 400])
axb.get_yticklabels()[-1].set_verticalalignment('top')
panel_label(axb, '(b)', y=0.85)
ylab(223, r'$Q_Y\,(\mathrm{m}^{3}/\mathrm{s})$', x=42)

# (c) tide: smooth curve through successive extremes
axc = make_axes(289, 422)
grid(axc, [1, 2, 3, 4])
tt, vt = xy(tide)
verts = [(tt[0], vt[0])]
codes = [Path.MOVETO]
for i in range(1, len(tt)):
    d = tt[i] - tt[i - 1]
    verts += [(tt[i - 1] + 0.37 * d, vt[i - 1]), (tt[i] - 0.37 * d, vt[i]), (tt[i], vt[i])]
    codes += [Path.CURVE4] * 3
axc.add_patch(PathPatch(Path(verts, codes), fill=False, lw=2.8, edgecolor='black',
                        capstyle='round', joinstyle='round', zorder=3))
axc.set_ylim(0, 4.5)
axc.set_yticks([0, 1, 2, 3, 4])
axc.yaxis.set_minor_locator(MultipleLocator(0.2))
axc.tick_params(axis='y', which='minor', direction='in', length=3)
panel_label(axc, '(c)', y=0.83)
ylab(355, r'$T_r$ (m)', x=44)

# (d)
axd = make_axes(434, 579)
grid(axd, [0.0, 0.1, 0.2, 0.3, 0.4, 0.5])
t1, v1 = xy(hk_raw)
t2, v2 = xy(hk_smooth)
axd.plot(t1, v1, color='#3a3a3a', lw=1.2, zorder=3)
axd.plot(t2, v2, color='#ff1010', lw=2.2, zorder=4)
axd.set_ylim(-0.096, 0.608)
axd.set_yticks([0, 0.1, 0.2, 0.3, 0.4, 0.5, 0.6])
axd.set_yticklabels(['0.', '0.1', '0.2', '0.3', '0.4', '0.5', '0.6'])
panel_label(axd, '(d)', y=0.88)
ylab(506, r'$\overline{H}_K$(m)', x=50)


def zigzag(hi, lo):
    k = np.arange(len(hi)) * 0.5
    xs = np.ravel(np.column_stack([k + 0.125, k + 0.375]))
    ys = np.ravel(np.column_stack([hi, lo]))
    return xs, ys


# (e)
axe = make_axes(586, 719)
grid(axe, [-3, 0, 3], color=GRID_DARK, lw=1.1)
xs, ys = zigzag(e_hi, e_lo)
axe.plot(xs, ys, color='#4a4a4a', lw=2.2, zorder=3)
t3, v3 = xy(e_smooth)
axe.plot(t3, v3, color='#ff1010', lw=2.4, zorder=4)
axe.set_ylim(-4.85, 4.95)
axe.set_yticks([-4, -2, 0, 2, 4])
panel_label(axe, '(e)', y=0.22)
ylab(652, r'$W$ (m/s)', x=46)

# (f)
axf = make_axes(725, 863)
grid(axf, [-3, 0, 3], color=GRID_DARK, lw=1.1)
xs, ys = zigzag(f_hi, f_lo)
axf.plot(xs, ys, color='#4a4a4a', lw=2.0, zorder=3)
t4, v4 = xy(f_smooth)
axf.plot(t4, v4, color='#ff1010', lw=2.4, zorder=4)
axf.set_ylim(-5.0, 5.0)
axf.set_yticks([-4, -2, 0, 2, 4])
panel_label(axf, '(f)', y=0.88)
ylab(794, r'$W$ (m/s)', x=46)

# (g)
axg = make_axes(869, 1030)
grid(axg, [5, 10, 15, 20, 25, 30])
tg, vg = xy(sG_top)
axg.fill_between(tg, sG_min, vg, color='#555555', lw=0, zorder=2)
axg.plot(tg, vg, color='#555555', lw=0.9, zorder=2)
t5, v5 = xy(sG_daily)
axg.plot(t5, v5, color='#ff0000', lw=1.1, drawstyle='steps-post', zorder=4)
t6, v6 = xy(sG_smooth)
axg.plot(t6, v6, color='#ff1010', lw=2.0, zorder=5)
t7, v7 = xy(sA_daily)
axg.plot(t7, v7, color='#2a3cff', lw=1.1, zorder=6)
t8, v8 = xy(sA_smooth)
axg.plot(t8, v8, color='#6a78ff', lw=2.0, zorder=6)
axg.set_ylim(-0.1, 32.2)
axg.set_yticks([0, 10, 20, 30])
panel_label(axg, '(g)', y=0.88)

# multi-coloured y label for (g)
renderer = fig.canvas.get_renderer()
pieces = [(r'$s_{G}$ , ', 'black'), (r'$\acute{s}_{G}$, ', 'red'), (r'$\acute{s}_{A}$, ', '#2b2ba0'),
          (r'$\hat{s}_{\mathrm{G}}$, ', 'red'), (r'$\hat{s}_{\mathrm{A}}$', '#2b2ba0')]
ypix = H - 1030
for s, c in pieces:
    txt = fig.text(55 / W, ypix / H, s, rotation=90, color=c, fontsize=18, ha='center', va='bottom')
    ypix += txt.get_window_extent(renderer).height

# (h)
axh = make_axes(1037, 1199)
grid(axh, [10, 20, 30])
t9, v9 = xy(temp_blue)
axh.plot(t9, v9, color='#1010f0', lw=2.0, zorder=3)
t10, v10 = xy(temp_red)
axh.plot(t10, v10, color='#ff1010', lw=2.0, zorder=4)
axh.set_ylim(0, 33)
axh.set_yticks([0, 10, 20, 30])
axh.get_yticklabels()[0].set_verticalalignment('bottom')
axh.tick_params(axis='x', labelbottom=True, labelsize=13.5, pad=6)
axh.set_xticklabels(month_labels)
panel_label(axh, '(h)', y=0.88)
ylab(1118, r'$T$ (°C)', x=50, size=17)

fig.text((LEFT + RIGHT) / 2 / W, 1 - 1240 / H, 'Time', ha='center', va='center', fontsize=17)

fig.savefig('out.png', dpi=100)
